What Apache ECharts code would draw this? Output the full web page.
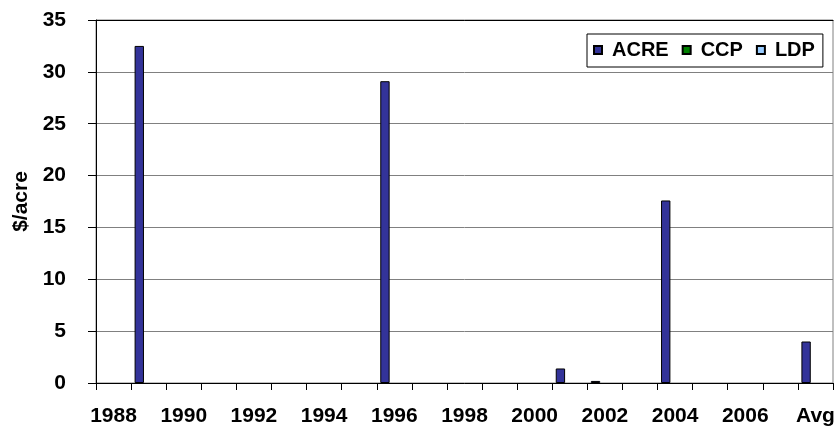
<!DOCTYPE html>
<html>
<head>
<meta charset="utf-8">
<script src="https://cdn.jsdelivr.net/npm/echarts@6/dist/echarts.min.js"></script>
<style>
  html, body { margin: 0; padding: 0; background: #fff; }
  #chart { width: 839px; height: 430px; }
</style>
</head>
<body>
<div id="chart"></div>
<script>
// Program payments per acre by crop year, plus the period average
const years = ['1988','1989','1990','1991','1992','1993','1994','1995','1996','1997',
               '1998','1999','2000','2001','2002','2003','2004','2005','2006','2007','Avg'];
const acre = [0, 32.5, 0, 0, 0, 0, 0, 0, 29.1, 0, 0, 0, 0, 1.4, 0.2, 0, 17.6, 0, 0, 0, 4.0];
const ccp  = [0, 0, 0, 0, 0, 0, 0, 0, 0, 0, 0, 0, 0, 0, 0, 0, 0, 0, 0, 0, 0];
const ldp  = [0, 0, 0, 0, 0, 0, 0, 0, 0, 0, 0, 0, 0, 0, 0, 0, 0, 0, 0, 0, 0];
const yTicks = { min: 0, max: 35, step: 5 };

const FONT = "'Liberation Sans', Arial, sans-serif";

const chart = echarts.init(document.getElementById('chart'), null, { renderer: 'canvas' });

const barStyle = (color) => ({ color: color, borderColor: '#000', borderWidth: 1 });
// zero-valued bars get no outline so they do not thicken the baseline
const barData = (values) => values.map(v => v === 0 ? { value: 0, itemStyle: { borderWidth: 0 } } : v);

chart.setOption({
  animation: false,
  backgroundColor: '#fff',
  textStyle: { fontFamily: FONT },
  grid: {
    left: 96, right: 6, top: 20, bottom: 47,
    show: true, borderColor: '#808080', borderWidth: 1
  },
  legend: {
    data: ['ACRE', 'CCP', 'LDP'],
    left: 587, top: 34,
    orient: 'horizontal',
    icon: 'rect',
    itemWidth: 8, itemHeight: 8,
    itemGap: 13,
    padding: [6, 8, 7, 6],
    borderColor: '#000', borderWidth: 1,
    backgroundColor: '#fff',
    textStyle: { fontFamily: FONT, fontSize: 20, fontWeight: 'bold', color: '#000', padding: [0, 0, 0, 5] }
  },
  xAxis: [{
    type: 'category',
    data: years,
    boundaryGap: true,
    axisLine: { lineStyle: { color: '#000', width: 1 } },
    axisTick: { show: true, interval: 0, length: 7, lineStyle: { color: '#000' } },
    axisLabel: { interval: 1, margin: 23, fontFamily: FONT, fontSize: 21, fontWeight: 'bold', color: '#000' },
    splitLine: { show: false }
  }, {
    type: 'category',
    data: years,
    position: 'top',
    axisLine: { lineStyle: { color: '#000', width: 1 } },
    axisTick: { show: false },
    axisLabel: { show: false }
  }],
  yAxis: {
    type: 'value',
    min: yTicks.min, max: yTicks.max, interval: yTicks.step,
    name: '$/acre',
    nameLocation: 'middle',
    nameGap: 59,
    nameTextStyle: { fontFamily: FONT, fontSize: 21, fontWeight: 'bold', color: '#000' },
    axisLine: { show: true, lineStyle: { color: '#000', width: 1 } },
    axisTick: { show: true, length: 8, lineStyle: { color: '#000' } },
    axisLabel: { margin: 30, fontFamily: FONT, fontSize: 21, fontWeight: 'bold', color: '#000' },
    splitLine: { show: true, lineStyle: { color: '#808080', width: 1 } }
  },
  series: [
    { name: 'ACRE', type: 'bar', data: barData(acre), barGap: 0, barCategoryGap: '20%', itemStyle: barStyle('#333399') },
    { name: 'CCP',  type: 'bar', data: barData(ccp),  barGap: 0, barCategoryGap: '20%', itemStyle: barStyle('#008000') },
    { name: 'LDP',  type: 'bar', data: barData(ldp),  barGap: 0, barCategoryGap: '20%', itemStyle: barStyle('#99CCFF') }
  ]
});
</script>
</body>
</html>
